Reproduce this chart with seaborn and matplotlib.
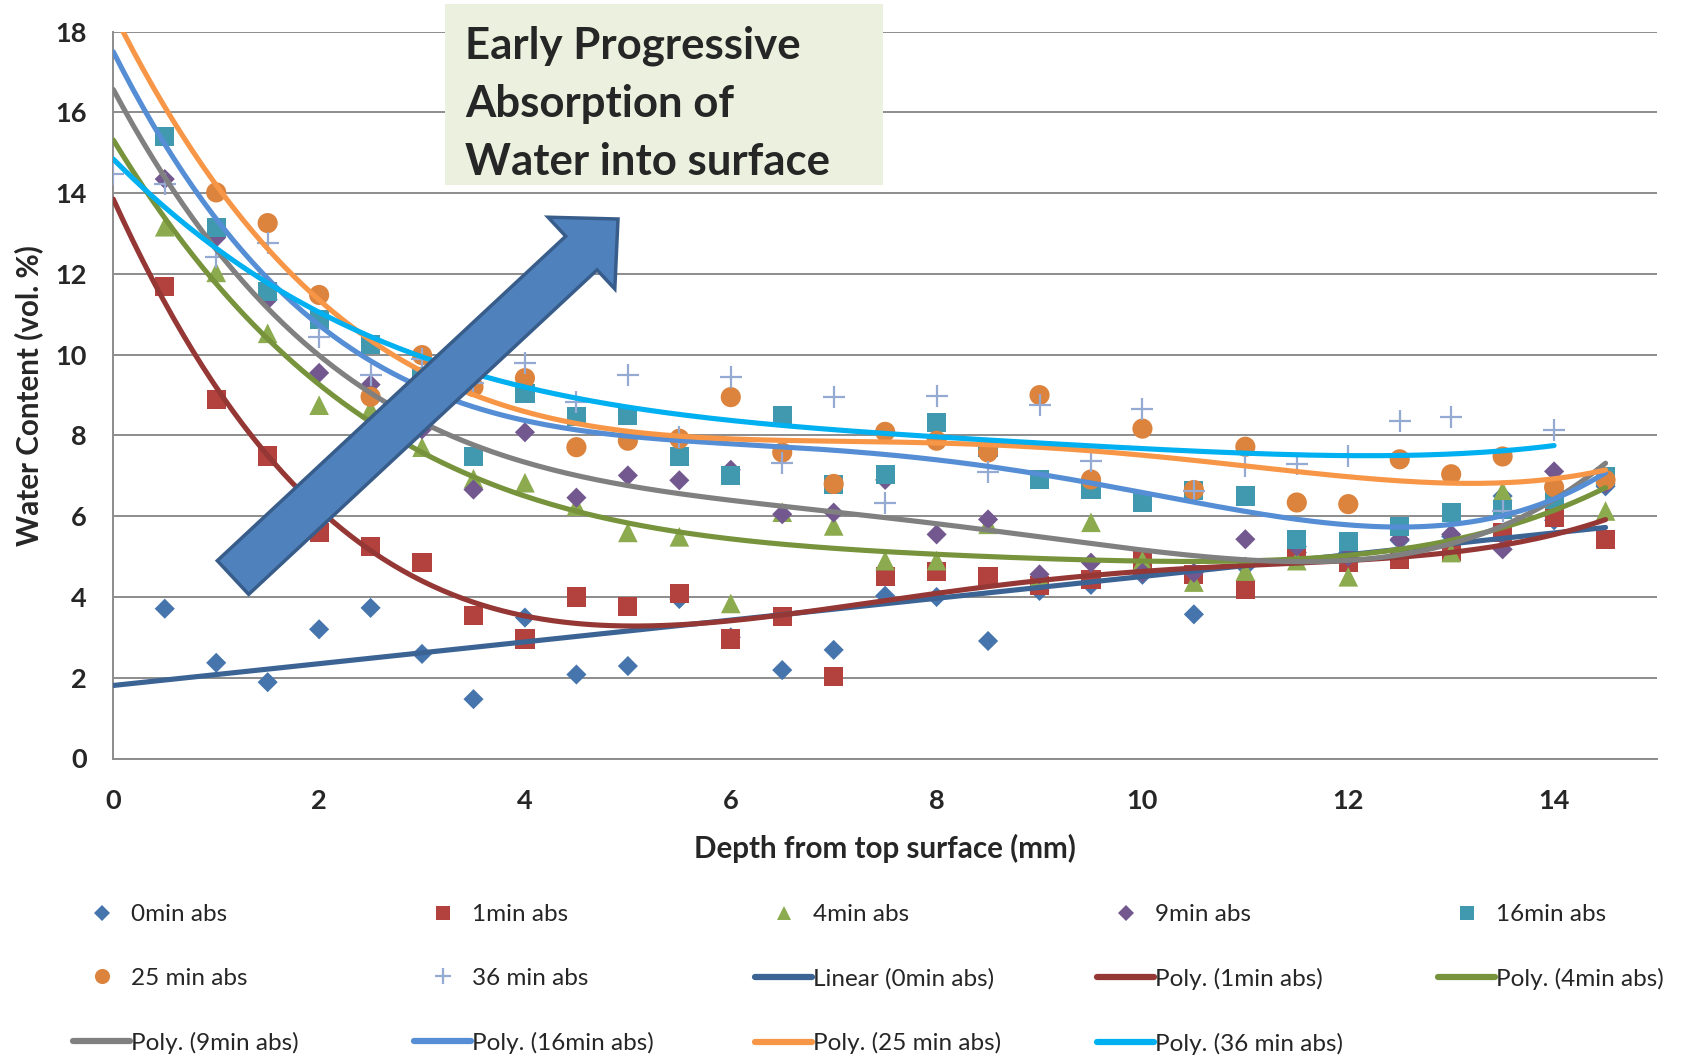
import numpy as np
import matplotlib
matplotlib.use("Agg")
import matplotlib.pyplot as plt
from matplotlib.lines import Line2D
from matplotlib.patches import Rectangle, Polygon
import seaborn as sns

# ---------------- data ----------------
depth = [0.5, 1.0, 1.5, 2.0, 2.5, 3.0, 3.5, 4.0, 4.5, 5.0, 5.5, 6.0, 6.5, 7.0, 7.5,
         8.0, 8.5, 9.0, 9.5, 10.0, 10.5, 11.0, 11.5, 12.0, 12.5, 13.0, 13.5, 14.0, 14.5]
depth_25 = [1.0, 1.5, 2.0, 2.5, 3.0, 3.5, 4.0, 4.5, 5.0, 5.5, 6.0, 6.5, 7.0, 7.5,
            8.0, 8.5, 9.0, 9.5, 10.0, 10.5, 11.0, 11.5, 12.0, 12.5, 13.0, 13.5, 14.0, 14.5]
depth_36 = [0.0, 0.5, 1.0, 1.5, 2.0, 2.5, 3.0, 3.5, 4.0, 4.5, 5.0, 5.5, 6.0, 6.5, 7.0,
            7.5, 8.0, 8.5, 9.0, 9.5, 10.0, 10.5, 11.0, 11.5, 12.0, 12.5, 13.0, 13.5, 14.0]

abs_0 = [3.71, 2.37, 1.89, 3.20, 3.73, 2.59, 1.47, 3.49, 2.08, 2.29, 3.95, 3.00, 2.19, 2.69, 4.03,
         4.00, 2.91, 4.15, 4.30, 4.55, 3.57, 4.75, 5.10, 5.10, 5.40, 5.50, 6.50, 5.90, 6.74]
abs_1 = [11.70, 8.90, 7.49, 5.60, 5.25, 4.85, 3.55, 2.96, 4.00, 3.76, 4.08, 2.96, 3.52, 2.03, 4.50,
         4.64, 4.50, 4.29, 4.43, 4.90, 4.55, 4.19, 5.10, 4.85, 4.93, 5.12, 5.60, 5.97, 5.43]
abs_4 = [13.17, 12.04, 10.53, 8.75, 8.65, 7.71, 6.93, 6.83, 6.25, 5.60, 5.49, 3.84, 6.10, 5.76, 4.90,
         4.90, 5.80, 4.50, 5.85, 4.90, 4.37, 4.64, 4.90, 4.50, 5.20, 5.10, 6.62, 6.60, 6.13]
abs_9 = [14.35, 12.90, 11.36, 9.55, 9.26, 8.15, 6.66, 8.08, 6.46, 7.01, 6.89, 7.15, 6.05, 6.09, 6.90,
         5.55, 5.92, 4.56, 4.85, 4.60, 4.60, 5.43, 5.25, 5.00, 5.43, 5.55, 5.18, 7.11, 6.80]
abs_16 = [15.41, 13.15, 11.57, 10.87, 10.25, 9.46, 7.48, 9.03, 8.48, 8.49, 7.47, 7.00, 8.49, 6.79, 7.04,
          8.33, 7.70, 6.91, 6.67, 6.35, 6.63, 6.50, 5.43, 5.38, 5.75, 6.09, 6.17, 6.42, 6.98]
abs_25 = [14.02, 13.26, 11.48, 8.96, 9.99, 9.20, 9.42, 7.71, 7.87, 7.92, 8.95, 7.58, 6.80, 8.09,
          7.87, 7.58, 9.00, 6.91, 8.17, 6.65, 7.72, 6.34, 6.30, 7.41, 7.04, 7.48, 6.72, 6.90]
abs_36 = [14.48, 14.23, 12.43, 12.77, 10.45, 9.50, 9.90, 9.30, 9.80, 8.84, 9.50, 7.95, 9.44, 7.33, 8.96,
          6.32, 8.98, 7.09, 8.75, 7.36, 8.65, 6.63, 7.24, 7.29, 7.49, 8.36, 8.45, 6.13, 8.13]

series_names = ["0min abs", "1min abs", "4min abs", "9min abs", "16min abs", "25 min abs", "36 min abs"]
trend_names = ["Linear (0min abs)", "Poly. (1min abs)", "Poly. (4min abs)", "Poly. (9min abs)",
               "Poly. (16min abs)", "Poly. (25 min abs)", "Poly. (36 min abs)"]
trend_orders = [1, 4, 4, 4, 5, 4, 4]

xs_list = [depth, depth, depth, depth, depth, depth_25, depth_36]
ys_list = [abs_0, abs_1, abs_4, abs_9, abs_16, abs_25, abs_36]

marker_colors = ["#4675AE", "#B3423F", "#8CAA4E", "#72588F", "#4199B0", "#DC843D", "#94AAD2"]
markers = ["D", "s", "^", "D", "s", "o", "+"]
marker_sizes = [105, 190, 200, 105, 190, 210, 230]
line_colors = ["#3B6394", "#953735", "#77933C", "#808080", "#558ED5", "#F79646", "#00B0F0"]

# ---------------- figure ----------------
W, H = 1685, 1059
sns.set_style("white")
plt.rcParams["font.family"] = ["Lato", "DejaVu Sans"]

fig = plt.figure(figsize=(W / 100, H / 100), dpi=100)
x0, x1, ytop, ybot = 113.3, 1657.0, 31.7, 758.5
ax = fig.add_axes([x0 / W, 1 - ybot / H, (x1 - x0) / W, (ybot - ytop) / H])

grid_c = "#8C8C8C"
for xs, ys, name, mk, col, sz in zip(xs_list, ys_list, series_names, markers, marker_colors, marker_sizes):
    if mk == "+":
        sns.scatterplot(x=xs, y=ys, marker=mk, s=sz, color=col, linewidth=1.6, ax=ax, zorder=3)
    else:
        sns.scatterplot(x=xs, y=ys, marker=mk, s=sz, color=col, edgecolor="none", linewidth=0, ax=ax, zorder=3)

for xs, ys, order, col in zip(xs_list, ys_list, trend_orders, line_colors):
    coef = np.polyfit(xs, ys, order)
    xx = np.linspace(0.0, max(xs), 300)
    ax.plot(xx, np.polyval(coef, xx), color=col, lw=3.7, solid_capstyle="round", zorder=4)

ax.set_xlim(0, 15)
ax.set_ylim(0, 18)
ax.set_xticks(np.arange(0, 15, 2))
ax.set_yticks(np.arange(0, 19, 2))
ax.grid(axis="y", color=grid_c, lw=1.4)
ax.grid(axis="x", visible=False)
ax.set_axisbelow(True)
for s in ["top", "right"]:
    ax.spines[s].set_visible(False)
for s in ["left", "bottom"]:
    ax.spines[s].set_color(grid_c)
    ax.spines[s].set_linewidth(1.4)
ax.tick_params(axis="both", direction="out", length=7, width=1.4, color=grid_c, labelsize=19.5)
ax.tick_params(axis="x", pad=15)
ax.tick_params(axis="y", pad=12)
for lab in ax.get_xticklabels() + ax.get_yticklabels():
    lab.set_fontweight("bold")
ax.set_xlabel("Depth from top surface (mm)", fontsize=21.3, fontweight="bold", labelpad=15)
ax.set_ylabel("Water Content (vol. %)", fontsize=21.3, fontweight="bold", labelpad=9)

# annotation box
fig.patches.append(Rectangle((445 / W, 1 - 185 / H), 438 / W, 181 / H, transform=fig.transFigure,
                             facecolor="#EBF1DE", edgecolor="none", zorder=5))
fig.text(465 / W, 1 - 25 / H, "Early Progressive\nAbsorption of\nWater into surface",
         fontsize=31.5, fontweight="bold", va="top", ha="left", linespacing=1.55, zorder=6)

# block arrow
tail = np.array([233.0, 577.5])
tip = np.array([618.0, 219.0])
u = (tip - tail) / np.linalg.norm(tip - tail)
n = np.array([-u[1], u[0]])
base = tip - u * 50
pts = [tail + n * 23, base + n * 23, base + n * 49, tip, base - n * 49, base - n * 23, tail - n * 23]
pts = [(p[0] / W, 1 - p[1] / H) for p in pts]
fig.patches.append(Polygon(pts, closed=True, transform=fig.transFigure, facecolor="#4F81BD",
                           edgecolor="#385D8A", lw=2.5, zorder=5))

# legend (Excel-style grid, row-major)
handles = []
for mk, col, sz, name in zip(markers, marker_colors, marker_sizes, series_names):
    ms = np.sqrt(sz) * 0.75
    if mk == "+":
        handles.append(Line2D([], [], marker=mk, linestyle="none", color=col, markersize=ms,
                              markeredgewidth=1.6, label=name))
    else:
        handles.append(Line2D([], [], marker=mk, linestyle="none", color=col, markersize=ms,
                              markeredgewidth=0, label=name))
for col, name in zip(line_colors, trend_names):
    handles.append(Line2D([], [], color=col, lw=4.5, label=name))

col_x = [73, 414, 755, 1097, 1438]
ncols = 5
for c in range(ncols):
    hs = handles[c::ncols]
    fig.legend(handles=hs, loc="upper left", bbox_to_anchor=(col_x[c] / W, 1 - 904 / H),
               frameon=False, fontsize=17.5, handlelength=2.35, handletextpad=0.05,
               borderpad=0, borderaxespad=0, labelspacing=1.76, numpoints=1)

fig.savefig("out.png", dpi=100)
